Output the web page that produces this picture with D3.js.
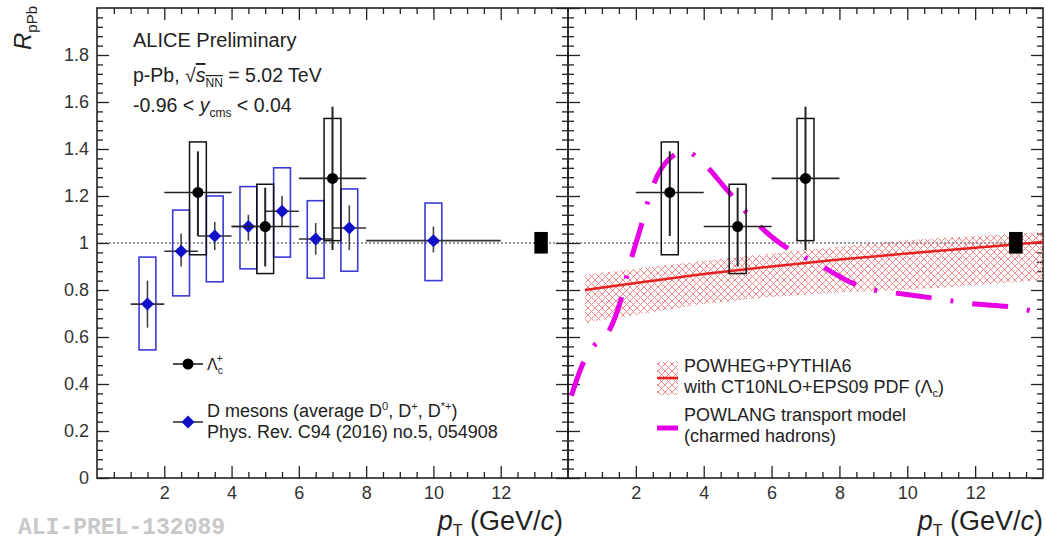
<!DOCTYPE html>
<html>
<head>
<meta charset="utf-8">
<script src="https://cdn.jsdelivr.net/npm/d3@7"></script>
<style>
  body { margin: 0; background: #fff; }
  text { font-family: "Liberation Sans", Arial, sans-serif; fill: #222; }
</style>
</head>
<body>
<script>
// Lambda_c+ R_pPb (both panels)
var lcPt = [3, 5, 7];
var lcPtLo = [2, 4, 6];
var lcPtHi = [4, 6, 8];
var lcVal = [1.215, 1.07, 1.275];
var lcStatLo = [1.03, 0.90, 0.97];
var lcStatHi = [1.39, 1.235, 1.58];
var lcSysLo = [0.95, 0.87, 1.01];
var lcSysHi = [1.43, 1.25, 1.53];

// D mesons average (left panel)
var dPt = [1.5, 2.5, 3.5, 4.5, 5.5, 6.5, 7.5, 10];
var dPtLo = [1, 2, 3, 4, 5, 6, 7, 8];
var dPtHi = [2, 3, 4, 5, 6, 7, 8, 12];
var dVal = [0.74, 0.965, 1.03, 1.07, 1.135, 1.017, 1.064, 1.01];
var dStatLo = [0.64, 0.90, 0.97, 1.01, 1.07, 0.95, 0.97, 0.96];
var dStatHi = [0.84, 1.04, 1.09, 1.12, 1.20, 1.085, 1.16, 1.07];
var dSysLo = [0.545, 0.775, 0.835, 0.89, 0.94, 0.85, 0.88, 0.84];
var dSysHi = [0.94, 1.14, 1.20, 1.24, 1.32, 1.18, 1.23, 1.17];

// normalisation uncertainty box
var normPt = 13.2;
var normLo = 0.955;
var normHi = 1.047;

// POWHEG+PYTHIA6 prediction
var powhegPt = [0.5, 2, 4, 6, 8, 10, 12, 14];
var powhegVal = [0.80, 0.83, 0.868, 0.90, 0.93, 0.955, 0.98, 1.004];
var powhegLo = [0.66, 0.695, 0.74, 0.77, 0.79, 0.80, 0.82, 0.843];
var powhegHi = [0.865, 0.89, 0.925, 0.955, 0.985, 1.013, 1.03, 1.047];

// POWLANG transport model
var powlangPt = [0.1, 0.45, 0.75, 1.15, 1.53, 1.83, 2.12, 2.48, 3.0, 3.48, 3.98, 4.69, 5.52, 6.34, 6.84, 7.49, 8.38, 9.0, 9.65, 10.74, 12.0, 13.04, 14.0];
var powlangVal = [0.35, 0.49, 0.56, 0.61, 0.745, 0.915, 1.055, 1.234, 1.36, 1.39, 1.34, 1.225, 1.09, 0.99, 0.95, 0.90, 0.83, 0.80, 0.787, 0.766, 0.74, 0.728, 0.70];

var xMajor = [2, 4, 6, 8, 10, 12];
var yMajor = [0, 0.2, 0.4, 0.6, 0.8, 1, 1.2, 1.4, 1.6, 1.8, 2];
var yLabels = ["0", "0.2", "0.4", "0.6", "0.8", "1", "1.2", "1.4", "1.6", "1.8"];

var width = 1046, height = 541;
var yTop = 8, yBot = 478;
var legendSize = 18;

var svg = d3.select("body").append("svg")
  .attr("width", width)
  .attr("height", height);

svg.append("rect").attr("width", width).attr("height", height).attr("fill", "#fff");

var defs = svg.append("defs");
var pat = defs.append("pattern")
  .attr("id", "hatch")
  .attr("patternUnits", "userSpaceOnUse")
  .attr("width", 7).attr("height", 7);
pat.append("path")
  .attr("d", "M0,0L7,7M7,0L0,7")
  .attr("stroke", "#f27a7a")
  .attr("stroke-width", 0.9)
  .attr("fill", "none");

var y = d3.scaleLinear().domain([0, 2]).range([yBot, yTop]);
var xL = d3.scaleLinear().domain([0, 14]).range([97, 568]);
var xR = d3.scaleLinear().domain([0, 14]).range([568, 1043]);

var xMinor = d3.range(0.5, 14, 0.5).filter(function(d) { return d % 2 !== 0; });
var yMinor = d3.range(0.04, 2, 0.04).filter(function(d) { return Math.abs(d / 0.2 - Math.round(d / 0.2)) > 0.01; });

function frame(x, labelY) {
  var g = svg.append("g");
  var x0 = x.range()[0], x1 = x.range()[1];

  function ax(axisFn, pos, ticks, size, fmt) {
    var a = g.append("g")
      .attr("transform", pos)
      .call(axisFn.tickValues(ticks).tickSize(-size).tickSizeOuter(0).tickPadding(8).tickFormat(fmt));
    a.select(".domain").remove();
    a.selectAll("line").attr("stroke", "#222").attr("stroke-width", 1.3);
    a.selectAll("text").attr("font-size", 18).style("fill", "#333")
      .style("font-family", "Liberation Sans, Arial, sans-serif");
    return a;
  }
  ax(d3.axisBottom(x), "translate(0," + yBot + ")", xMajor, 12, function(d) { return d; });
  ax(d3.axisBottom(x), "translate(0," + yBot + ")", xMinor, 6, "");
  ax(d3.axisTop(x), "translate(0," + yTop + ")", xMajor, 12, "");
  ax(d3.axisTop(x), "translate(0," + yTop + ")", xMinor, 6, "");
  ax(d3.axisLeft(y), "translate(" + x0 + ",0)", labelY ? yMajor.slice(0, 10) : yMajor, 12,
     labelY ? function(d, i) { return yLabels[i]; } : "");
  ax(d3.axisLeft(y), "translate(" + x0 + ",0)", yMinor, 6, "");
  ax(d3.axisRight(y), "translate(" + x1 + ",0)", yMajor, 12, "");
  ax(d3.axisRight(y), "translate(" + x1 + ",0)", yMinor, 6, "");

  g.append("rect")
    .attr("x", x0).attr("y", yTop)
    .attr("width", x1 - x0).attr("height", yBot - yTop)
    .attr("fill", "none").attr("stroke", "#222").attr("stroke-width", 1.6);

  // R = 1 reference
  svg.append("line")
    .attr("x1", x0).attr("x2", x1)
    .attr("y1", y(1)).attr("y2", y(1))
    .attr("stroke", "#333").attr("stroke-width", 1.2)
    .attr("stroke-dasharray", "2,2");
}

function normBox(x) {
  svg.append("rect")
    .attr("x", x(normPt - 0.2)).attr("y", y(normHi))
    .attr("width", x(normPt + 0.2) - x(normPt - 0.2))
    .attr("height", y(normLo) - y(normHi))
    .attr("fill", "#000");
}

function drawLc(x) {
  var g = svg.append("g");
  lcPt.forEach(function(p, i) {
    g.append("rect")
      .attr("x", x(p - 0.25)).attr("y", y(lcSysHi[i]))
      .attr("width", x(p + 0.25) - x(p - 0.25))
      .attr("height", y(lcSysLo[i]) - y(lcSysHi[i]))
      .attr("fill", "none").attr("stroke", "#111").attr("stroke-width", 1.5);
    g.append("line")
      .attr("x1", x(p)).attr("x2", x(p))
      .attr("y1", y(lcStatLo[i])).attr("y2", y(lcStatHi[i]))
      .attr("stroke", "#222").attr("stroke-width", 2);
    g.append("line")
      .attr("x1", x(lcPtLo[i])).attr("x2", x(lcPtHi[i]))
      .attr("y1", y(lcVal[i])).attr("y2", y(lcVal[i]))
      .attr("stroke", "#222").attr("stroke-width", 1.6);
    g.append("circle")
      .attr("cx", x(p)).attr("cy", y(lcVal[i]))
      .attr("r", 5.5).attr("fill", "#000");
  });
}

function diamond(g, cx, cy) {
  g.append("path")
    .attr("d", d3.symbol().type(d3.symbolSquare).size(85)())
    .attr("transform", "translate(" + cx + "," + cy + ") rotate(45)")
    .attr("fill", "#1010c8");
}

// ---- left panel ----
frame(xL, true);
normBox(xL);

var gd = svg.append("g");
dPt.forEach(function(p, i) {
  gd.append("rect")
    .attr("x", xL(p - 0.25)).attr("y", y(dSysHi[i]))
    .attr("width", xL(p + 0.25) - xL(p - 0.25))
    .attr("height", y(dSysLo[i]) - y(dSysHi[i]))
    .attr("fill", "none").attr("stroke", "#3b3bd6").attr("stroke-width", 1.6);
});
dPt.forEach(function(p, i) {
  gd.append("line")
    .attr("x1", xL(p)).attr("x2", xL(p))
    .attr("y1", y(dStatLo[i])).attr("y2", y(dStatHi[i]))
    .attr("stroke", "#444").attr("stroke-width", 1.6);
  gd.append("line")
    .attr("x1", xL(dPtLo[i])).attr("x2", xL(dPtHi[i]))
    .attr("y1", y(dVal[i])).attr("y2", y(dVal[i]))
    .attr("stroke", "#333").attr("stroke-width", 1.6);
});
drawLc(xL);
dPt.forEach(function(p, i) { diamond(gd, xL(p), y(dVal[i])); });

// top-left labels
svg.append("text").attr("x", 133).attr("y", 47).attr("font-size", 20).text("ALICE Preliminary");
var t2 = svg.append("text").attr("x", 133).attr("y", 82).attr("font-size", 19.5);
t2.append("tspan").text("p-Pb, ");
t2.append("tspan").text("\u221A");
var sq = t2.append("tspan").style("text-decoration", "overline");
sq.append("tspan").attr("font-style", "italic").text("s");
sq.append("tspan").attr("font-size", 12).attr("dy", 5).text("NN");
t2.append("tspan").attr("dy", -5).text(" = 5.02 TeV");
var t3 = svg.append("text").attr("x", 133).attr("y", 112).attr("font-size", 19.5);
t3.append("tspan").text("-0.96 < ");
t3.append("tspan").attr("font-style", "italic").text("y");
t3.append("tspan").attr("font-size", 12).attr("dy", 5).text("cms");
t3.append("tspan").attr("dy", -5).text(" < 0.04");

// left legend
var lg = svg.append("g");
lg.append("line").attr("x1", 173).attr("x2", 203).attr("y1", 364).attr("y2", 364)
  .attr("stroke", "#222").attr("stroke-width", 1.6);
lg.append("circle").attr("cx", 188).attr("cy", 364).attr("r", 5.5).attr("fill", "#000");
var tl = lg.append("text").attr("x", 207).attr("y", 370).attr("font-size", 16);
tl.append("tspan").text("\u039B");
tl.append("tspan").attr("font-size", 10).attr("dy", 4).text("c");
tl.append("tspan").attr("font-size", 10).attr("dx", -6).attr("dy", -12).text("+");

lg.append("line").attr("x1", 173).attr("x2", 203).attr("y1", 422).attr("y2", 422)
  .attr("stroke", "#333").attr("stroke-width", 1.6);
diamond(lg, 188, 422);
var td = lg.append("text").attr("x", 207).attr("y", 417).attr("font-size", legendSize);
td.append("tspan").text("D mesons (average D");
td.append("tspan").attr("font-size", 11).attr("dy", -7).text("0");
td.append("tspan").attr("dy", 7).text(", D");
td.append("tspan").attr("font-size", 11).attr("dy", -7).text("+");
td.append("tspan").attr("dy", 7).text(", D");
td.append("tspan").attr("font-size", 11).attr("dy", -7).text("*+");
td.append("tspan").attr("dy", 7).text(")");
lg.append("text").attr("x", 207).attr("y", 438).attr("font-size", legendSize)
  .text("Phys. Rev. C94 (2016) no.5, 054908");

// ---- right panel ----
frame(xR, false);

defs.append("clipPath").attr("id", "clipR").append("rect")
  .attr("x", xR.range()[0]).attr("y", yTop)
  .attr("width", xR.range()[1] - xR.range()[0]).attr("height", yBot - yTop);

var gm = svg.append("g").attr("clip-path", "url(#clipR)");
var band = d3.area()
  .x(function(d, i) { return xR(powhegPt[i]); })
  .y0(function(d, i) { return y(powhegLo[i]); })
  .y1(function(d, i) { return y(powhegHi[i]); });
gm.append("path").attr("d", band(powhegPt)).attr("fill", "url(#hatch)");
var pline = d3.line()
  .x(function(d, i) { return xR(powhegPt[i]); })
  .y(function(d, i) { return y(powhegVal[i]); });
gm.append("path").attr("d", pline(powhegPt))
  .attr("fill", "none").attr("stroke", "#e82020").attr("stroke-width", 2.5);

normBox(xR);
drawLc(xR);

var lline = d3.line()
  .curve(d3.curveMonotoneX)
  .x(function(d, i) { return xR(powlangPt[i]); })
  .y(function(d, i) { return y(powlangVal[i]); });
gm.append("path").attr("d", lline(powlangPt))
  .attr("fill", "none").attr("stroke", "#e600e6").attr("stroke-width", 5)
  .attr("stroke-dasharray", "36,19,3,19");

// right legend
var rg = svg.append("g");
rg.append("rect").attr("x", 657).attr("y", 362).attr("width", 21).attr("height", 33)
  .attr("fill", "url(#hatch)");
rg.append("line").attr("x1", 657).attr("x2", 678).attr("y1", 378).attr("y2", 378)
  .attr("stroke", "#e82020").attr("stroke-width", 2.5);
rg.append("text").attr("x", 684).attr("y", 372).attr("font-size", legendSize).text("POWHEG+PYTHIA6");
var tw = rg.append("text").attr("x", 684).attr("y", 393).attr("font-size", legendSize);
tw.append("tspan").text("with CT10NLO+EPS09 PDF (\u039B");
tw.append("tspan").attr("font-size", 11).attr("dy", 4).text("c");
tw.append("tspan").attr("dy", -4).text(")");
rg.append("line").attr("x1", 657).attr("x2", 678).attr("y1", 428).attr("y2", 428)
  .attr("stroke", "#e600e6").attr("stroke-width", 5);
rg.append("text").attr("x", 684).attr("y", 421).attr("font-size", legendSize).text("POWLANG transport model");
rg.append("text").attr("x", 684).attr("y", 442).attr("font-size", legendSize).text("(charmed hadrons)");

// axis titles
function xTitle(xr) {
  var t = svg.append("text").attr("x", xr).attr("y", 530)
    .attr("text-anchor", "end").attr("font-size", 27);
  t.append("tspan").attr("font-style", "italic").text("p");
  t.append("tspan").attr("font-size", 16).attr("dy", 6).text("T");
  t.append("tspan").attr("dy", -6).text(" (GeV/");
  t.append("tspan").attr("font-style", "italic").text("c");
  t.append("tspan").text(")");
}
xTitle(563);
xTitle(1043);

var yt = svg.append("text")
  .attr("transform", "translate(31,6) rotate(-90)")
  .attr("text-anchor", "end").attr("font-size", 24);
yt.append("tspan").attr("font-style", "italic").text("R");
yt.append("tspan").attr("font-size", 15).attr("dy", 6).text("pPb");

svg.append("text").attr("x", 18).attr("y", 534)
  .style("font-family", "Liberation Mono, DejaVu Sans Mono, monospace")
  .attr("font-size", 23).attr("font-weight", "bold").style("fill", "#c8c8c8")
  .text("ALI-PREL-132089");
</script>
</body>
</html>
